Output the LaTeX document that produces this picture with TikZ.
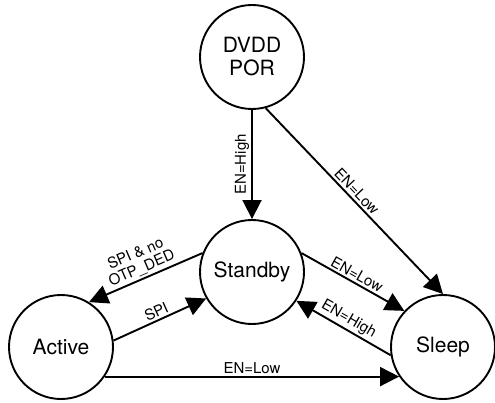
\documentclass[tikz,border=0pt]{standalone}
\usepackage{fontspec}
\setmainfont{TeX Gyre Heros}
\usetikzlibrary{arrows.meta}
\begin{document}
\begin{tikzpicture}[x=1pt, y=1pt, line width=1.9pt, line join=round, >={Triangle[length=19pt,width=19pt]},
	state/.style={draw, circle, minimum size=104pt, inner sep=0pt, align=center, font=\fontsize{21}{23}\selectfont},
	lbl/.style={font=\fontsize{15}{15.5}\selectfont, inner sep=2pt, align=center}]
			\useasboundingbox (0,0) rectangle (495,402);
			\node[state] (dvdd) at (252,345) {DVDD\\POR};
			\node[state] (standby) at (252,130) {Standby};
			\node[state] (active) at (61,55) {Active};
			\node[state] (sleep) at (443,55) {Sleep};
			\draw[->] (dvdd) -- (standby) node[lbl, midway, rotate=90, above]{EN=High};
			\draw[->] (dvdd.-75) -- (sleep.north) node[lbl, pos=0.48, sloped, above]{EN=Low};
			\draw[->] (standby.21) -- (sleep.137) node[lbl, midway, sloped, above]{EN=Low};
			\draw[->] (sleep.189) -- (standby.-33) node[lbl, midway, sloped, above]{EN=High};
			\draw[->] (standby.159) -- (active.58) node[lbl, midway, sloped, above]{SPI \& no\\OTP\_DED};
			\draw[->] (active.7) -- (standby.210) node[lbl, midway, sloped, above]{SPI};
			\draw[->] (active.-34) -- (sleep.214) node[lbl, midway, above]{EN=Low};
\end{tikzpicture}
\end{document}
